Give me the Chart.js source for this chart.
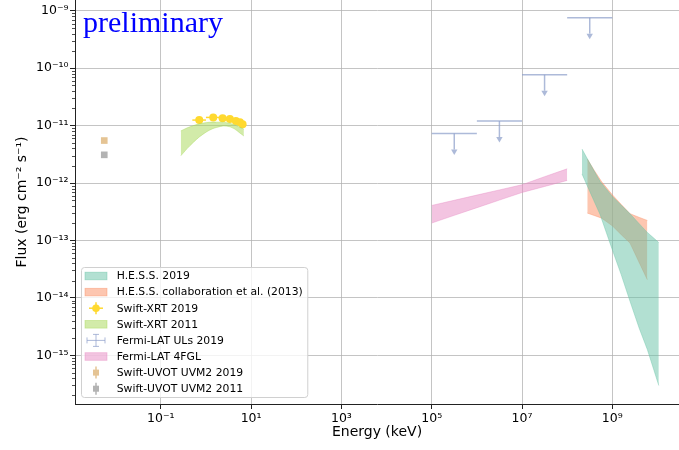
<!DOCTYPE html>
<html><head><meta charset="utf-8">
<script src="https://cdn.jsdelivr.net/npm/chart.js@4.4.1/dist/chart.umd.min.js"></script>
<style>html,body{margin:0;padding:0;background:#fff;} canvas{display:block;}</style>
</head><body>
<canvas id="c" width="679" height="450"></canvas>
<script>
// ---------------- data ----------------
const xTickValues = [1e-1, 1e1, 1e3, 1e5, 1e7, 1e9];
const xTickLabels = ['10⁻¹', '10¹', '10³', '10⁵', '10⁷', '10⁹'];
const yTickValues = [1e-15, 1e-14, 1e-13, 1e-12, 1e-11, 1e-10, 1e-9];
const yTickLabels = ['10⁻¹⁵', '10⁻¹⁴', '10⁻¹³', '10⁻¹²', '10⁻¹¹', '10⁻¹⁰', '10⁻⁹'];
const xMin = Math.pow(10, -2.900), xMax = Math.pow(10, 10.477);
const yMin = Math.pow(10, -15.848), yMax = Math.pow(10, -8.812);

// H.E.S.S. 2019 butterfly (keV, erg cm-2 s-1)
const hess2019Energy = [2.13e8, 3.16e8, 5.33e8, 1.0e9, 1.58e9, 2.47e9, 3.98e9, 5.97e9, 1.07e10];
const hess2019Upper  = [3.91e-12, 2.23e-12, 1.07e-12, 5.85e-13, 4.10e-13, 2.92e-13, 1.94e-13, 1.38e-13, 9.2e-14];
const hess2019Lower  = [1.44e-12, 7.16e-13, 2.86e-13, 6.89e-14, 2.52e-14, 8.7e-15, 2.90e-15, 1.26e-15, 2.98e-16];

// H.E.S.S. collaboration et al. (2013) butterfly
const hess2013Energy = [2.79e8, 3.98e8, 5.82e8, 1.0e9, 1.58e9, 2.47e9, 3.98e9, 5.97e9];
const hess2013Upper  = [2.62e-12, 1.66e-12, 1.05e-12, 6.25e-13, 4.24e-13, 2.92e-13, 2.52e-13, 2.23e-13];
const hess2013Lower  = [3.0e-13, 2.72e-13, 2.45e-13, 1.80e-13, 1.26e-13, 9.0e-14, 4.06e-14, 2.07e-14];

// Swift-XRT 2011 band
const xrt2011Energy = [0.277, 0.44, 0.867, 1.72, 3.39, 6.92];
const xrt2011Upper  = [8.09e-12, 9.53e-12, 1.106e-11, 1.151e-11, 1.096e-11, 8.7e-12];
const xrt2011Lower  = [2.98e-12, 4.45e-12, 7.11e-12, 9.31e-12, 9.55e-12, 6.6e-12];

// Fermi-LAT 4FGL butterfly
const fgl4Energy = [1e5, 3.16e5, 1e6, 3.16e6, 1e7, 3.16e7, 1e8];
const fgl4Upper  = [4.07e-13, 5.01e-13, 6.17e-13, 7.59e-13, 9.33e-13, 1.29e-12, 1.77e-12];
const fgl4Lower  = [2.01e-13, 2.74e-13, 3.72e-13, 5.05e-13, 6.85e-13, 8.71e-13, 1.11e-12];

// Swift-XRT 2019 points
const xrt2019Energy = [0.71, 1.45, 2.34, 3.39, 4.6, 5.65, 6.48];
const xrt2019Low    = [0.5, 1, 2, 3, 4, 5, 6];
const xrt2019High   = [1, 2, 3, 4, 5, 6, 7];
const xrt2019Flux   = [1.25e-11, 1.39e-11, 1.35e-11, 1.30e-11, 1.21e-11, 1.14e-11, 1.06e-11];

// Fermi-LAT upper limits 2019
const ulEnergy = [3.16e5, 3.16e6, 3.16e7, 3.16e8];
const ulLow    = [1e5, 1e6, 1e7, 1e8];
const ulHigh   = [1e6, 1e7, 1e8, 1e9];
const ulFlux   = [7.3e-12, 1.2e-11, 7.7e-11, 7.6e-10];

// Swift-UVOT UVM2
const uvotEnergy = [5.6e-3];
const uvot2019Flux = [5.5e-12];
const uvot2011Flux = [3.1e-12];

const legendLabels = ['H.E.S.S. 2019', 'H.E.S.S. collaboration et al. (2013)', 'Swift-XRT 2019', 'Swift-XRT 2011',
  'Fermi-LAT ULs 2019', 'Fermi-LAT 4FGL', 'Swift-UVOT UVM2 2019', 'Swift-UVOT UVM2 2011'];

// ---------------- styles ----------------
const C = {
  hess19: 'rgba(102,194,165,0.5)',
  hess13: 'rgba(252,141,98,0.5)',
  xrt11: 'rgba(166,216,84,0.5)',
  fgl: 'rgba(231,138,195,0.5)',
  ul: 'rgba(141,160,203,0.72)',
  xrt19: '#ffd92f',
  uvot19: '#e5c494',
  uvot11: '#b3b3b3'
};
const legendKinds = ['patch', 'patch', 'xrt', 'patch', 'ul', 'patch', 'uvot', 'uvot'];
const legendColors = [C.hess19, C.hess13, C.xrt19, C.xrt11, C.ul, C.fgl, C.uvot19, C.uvot11];

const pts = (xs, ys) => xs.map((x, i) => ({x: x, y: ys[i]}));
function band(label, xs, up, lo, color, tension) {
  return [
    {label: label + ' upper', data: pts(xs, up), borderColor: color, borderWidth: 0.8, pointRadius: 0, fill: false, tension: tension || 0},
    {label: label, data: pts(xs, lo), borderColor: color, borderWidth: 0.8, pointRadius: 0, fill: '-1', backgroundColor: color, tension: tension || 0}
  ];
}

const datasets = [].concat(
  band('H.E.S.S. 2019', hess2019Energy, hess2019Upper, hess2019Lower, C.hess19),
  band('H.E.S.S. 2013', hess2013Energy, hess2013Upper, hess2013Lower, C.hess13),
  band('Swift-XRT 2011', xrt2011Energy, xrt2011Upper, xrt2011Lower, C.xrt11, 0.4),
  band('Fermi-LAT 4FGL', fgl4Energy, fgl4Upper, fgl4Lower, C.fgl),
  [
    {label: 'UVOT 2019', data: pts(uvotEnergy, uvot2019Flux), showLine: false, pointStyle: 'rect', pointRadius: 4.7, pointBackgroundColor: C.uvot19, pointBorderWidth: 0},
    {label: 'UVOT 2011', data: pts(uvotEnergy, uvot2011Flux), showLine: false, pointStyle: 'rect', pointRadius: 4.7, pointBackgroundColor: C.uvot11, pointBorderWidth: 0},
    {label: 'Swift-XRT 2019', data: pts(xrt2019Energy, xrt2019Flux), showLine: false, pointStyle: 'circle', pointRadius: 4, pointBackgroundColor: C.xrt19, pointBorderWidth: 0}
  ]
);

function line(ctx, x0, y0, x1, y1) { ctx.beginPath(); ctx.moveTo(x0, y0); ctx.lineTo(x1, y1); ctx.stroke(); }

const extras = {
  id: 'extras',
  beforeDatasetDraw(chart, args) {
    if (chart.data.datasets[args.index].label !== 'Swift-XRT 2019') return;
    const xs = chart.scales.x, ys = chart.scales.y, ctx = chart.ctx;
    ctx.save();
    ctx.strokeStyle = C.xrt19; ctx.lineWidth = 1.5;
    xrt2019Energy.forEach((e, i) => {
      const y = ys.getPixelForValue(xrt2019Flux[i]);
      line(ctx, xs.getPixelForValue(xrt2019Low[i]), y, xs.getPixelForValue(xrt2019High[i]), y);
    });
    ctx.restore();
  },
  afterDatasetsDraw(chart) {
    const xs = chart.scales.x, ys = chart.scales.y, ctx = chart.ctx, a = chart.chartArea;
    ctx.save();
    ctx.beginPath(); ctx.rect(a.left, a.top, a.right - a.left, a.bottom - a.top); ctx.clip();
    ctx.strokeStyle = C.ul; ctx.fillStyle = C.ul; ctx.lineWidth = 1.5;
    ulEnergy.forEach((e, i) => {
      const y = ys.getPixelForValue(ulFlux[i]);
      const xc = xs.getPixelForValue(e);
      line(ctx, xs.getPixelForValue(ulLow[i]), y, xs.getPixelForValue(ulHigh[i]), y);
      line(ctx, xc, y, xc, y + 16);
      ctx.beginPath(); ctx.moveTo(xc - 3.2, y + 16); ctx.lineTo(xc + 3.2, y + 16); ctx.lineTo(xc, y + 21.5); ctx.closePath(); ctx.fill();
    });
    ctx.restore();
    // minor ticks on y axis
    ctx.save();
    ctx.strokeStyle = '#222'; ctx.lineWidth = 0.8;
    for (let n = -17; n <= -8; n++) {
      for (let k = 2; k <= 9; k++) {
        const v = k * Math.pow(10, n);
        if (v <= yMin || v >= yMax) continue;
        const y = Math.round(ys.getPixelForValue(v)) + 0.5;
        line(ctx, a.left - 3, y, a.left, y);
      }
    }
    ctx.restore();
  },
  afterDraw(chart) {
    const ctx = chart.ctx, a = chart.chartArea;
    ctx.save();
    // preliminary
    ctx.fillStyle = '#0000ff';
    ctx.font = '30px "Liberation Serif", "DejaVu Serif", serif';
    ctx.textBaseline = 'alphabetic'; ctx.textAlign = 'left';
    ctx.fillText('preliminary', a.left + 8, a.top + 32);
    // legend
    ctx.font = '10.8px "DejaVu Sans"';
    const bx = a.left + 6, by = a.bottom - 137, rowH = 16.1;
    const textX = bx + 35.7;
    let maxW = 0; legendLabels.forEach(t => { maxW = Math.max(maxW, ctx.measureText(t).width); });
    const bw = textX - bx + maxW + 4.5, bh = 130;
    ctx.beginPath();
    if (ctx.roundRect) ctx.roundRect(bx + 0.5, by + 0.5, bw, bh, 3); else ctx.rect(bx + 0.5, by + 0.5, bw, bh);
    ctx.fillStyle = 'rgba(255,255,255,0.8)'; ctx.fill();
    ctx.strokeStyle = '#d0d0d0'; ctx.lineWidth = 1; ctx.stroke();
    legendLabels.forEach((t, i) => {
      const cy = by + 9 + i * rowH;
      const hx0 = bx + 4, hx1 = bx + 26, hc = (hx0 + hx1) / 2;
      const col = legendColors[i], kind = legendKinds[i];
      if (kind === 'patch') {
        ctx.fillStyle = col; ctx.fillRect(hx0, cy - 3.8, hx1 - hx0, 7.6);
        ctx.strokeStyle = col; ctx.lineWidth = 0.8; ctx.strokeRect(hx0, cy - 3.8, hx1 - hx0, 7.6);
      } else if (kind === 'xrt') {
        ctx.strokeStyle = col; ctx.lineWidth = 1.5;
        line(ctx, hc - 7, cy, hc + 7, cy); line(ctx, hc, cy - 6, hc, cy + 6);
        ctx.fillStyle = col; ctx.beginPath(); ctx.arc(hc, cy, 3.8, 0, Math.PI * 2); ctx.fill();
      } else if (kind === 'ul') {
        ctx.strokeStyle = col; ctx.lineWidth = 1;
        line(ctx, hc - 9, cy, hc + 9, cy); line(ctx, hc, cy - 6, hc, cy + 6);
        line(ctx, hc - 9, cy - 3, hc - 9, cy + 3); line(ctx, hc + 9, cy - 3, hc + 9, cy + 3);
        line(ctx, hc - 3, cy - 6, hc + 3, cy - 6); line(ctx, hc - 3, cy + 6, hc + 3, cy + 6);
      } else if (kind === 'uvot') {
        ctx.strokeStyle = col; ctx.lineWidth = 1.5;
        line(ctx, hc, cy - 6, hc, cy + 6);
        ctx.fillStyle = col; ctx.fillRect(hc - 3, cy - 3, 6, 6);
      }
      ctx.fillStyle = '#000'; ctx.textBaseline = 'middle';
      ctx.fillText(t, textX, cy + 0.5);
    });
    ctx.restore();
  }
};

new Chart(document.getElementById('c'), {
  type: 'line',
  data: {datasets: datasets},
  plugins: [extras],
  options: {
    responsive: false, animation: false, devicePixelRatio: 1, events: [],
    layout: {padding: 0, autoPadding: false},
    plugins: {legend: {display: false}, tooltip: {enabled: false}},
    scales: {
      x: {
        type: 'logarithmic', min: xMin, max: xMax, bounds: 'data',
        afterBuildTicks: s => { s.ticks = xTickValues.map(v => ({value: v})); },
        afterFit: s => { s.height = 46; s.paddingLeft = 0; s.paddingRight = 0; },
        ticks: {autoSkip: false, maxRotation: 0, minRotation: 0, padding: 2, color: '#000',
          font: {family: 'DejaVu Sans', size: 12.5}, callback: (v, i) => xTickLabels[i]},
        grid: {color: 'rgba(176,176,176,0.75)', lineWidth: 1, tickLength: 5, tickColor: '#222'},
        border: {display: true, color: '#222', width: 1},
        title: {display: true, text: 'Energy (keV)', color: '#000', font: {family: 'DejaVu Sans', size: 14}, padding: {top: 0, bottom: 9}}
      },
      y: {
        type: 'logarithmic', min: yMin, max: yMax, bounds: 'data',
        afterBuildTicks: s => { s.ticks = yTickValues.map(v => ({value: v})); },
        afterFit: s => { s.width = 75; s.paddingTop = 0; s.paddingBottom = 0; },
        ticks: {autoSkip: false, padding: 1.5, color: '#000',
          font: {family: 'DejaVu Sans', size: 12.5}, callback: (v, i) => yTickLabels[i]},
        grid: {color: 'rgba(176,176,176,0.75)', lineWidth: 1, tickLength: 5, tickColor: '#222'},
        border: {display: true, color: '#222', width: 1},
        title: {display: true, text: 'Flux (erg cm⁻² s⁻¹)', color: '#000', font: {family: 'DejaVu Sans', size: 14}, padding: {top: 13.5, bottom: 0}}
      }
    }
  }
});
</script>
</body></html>
